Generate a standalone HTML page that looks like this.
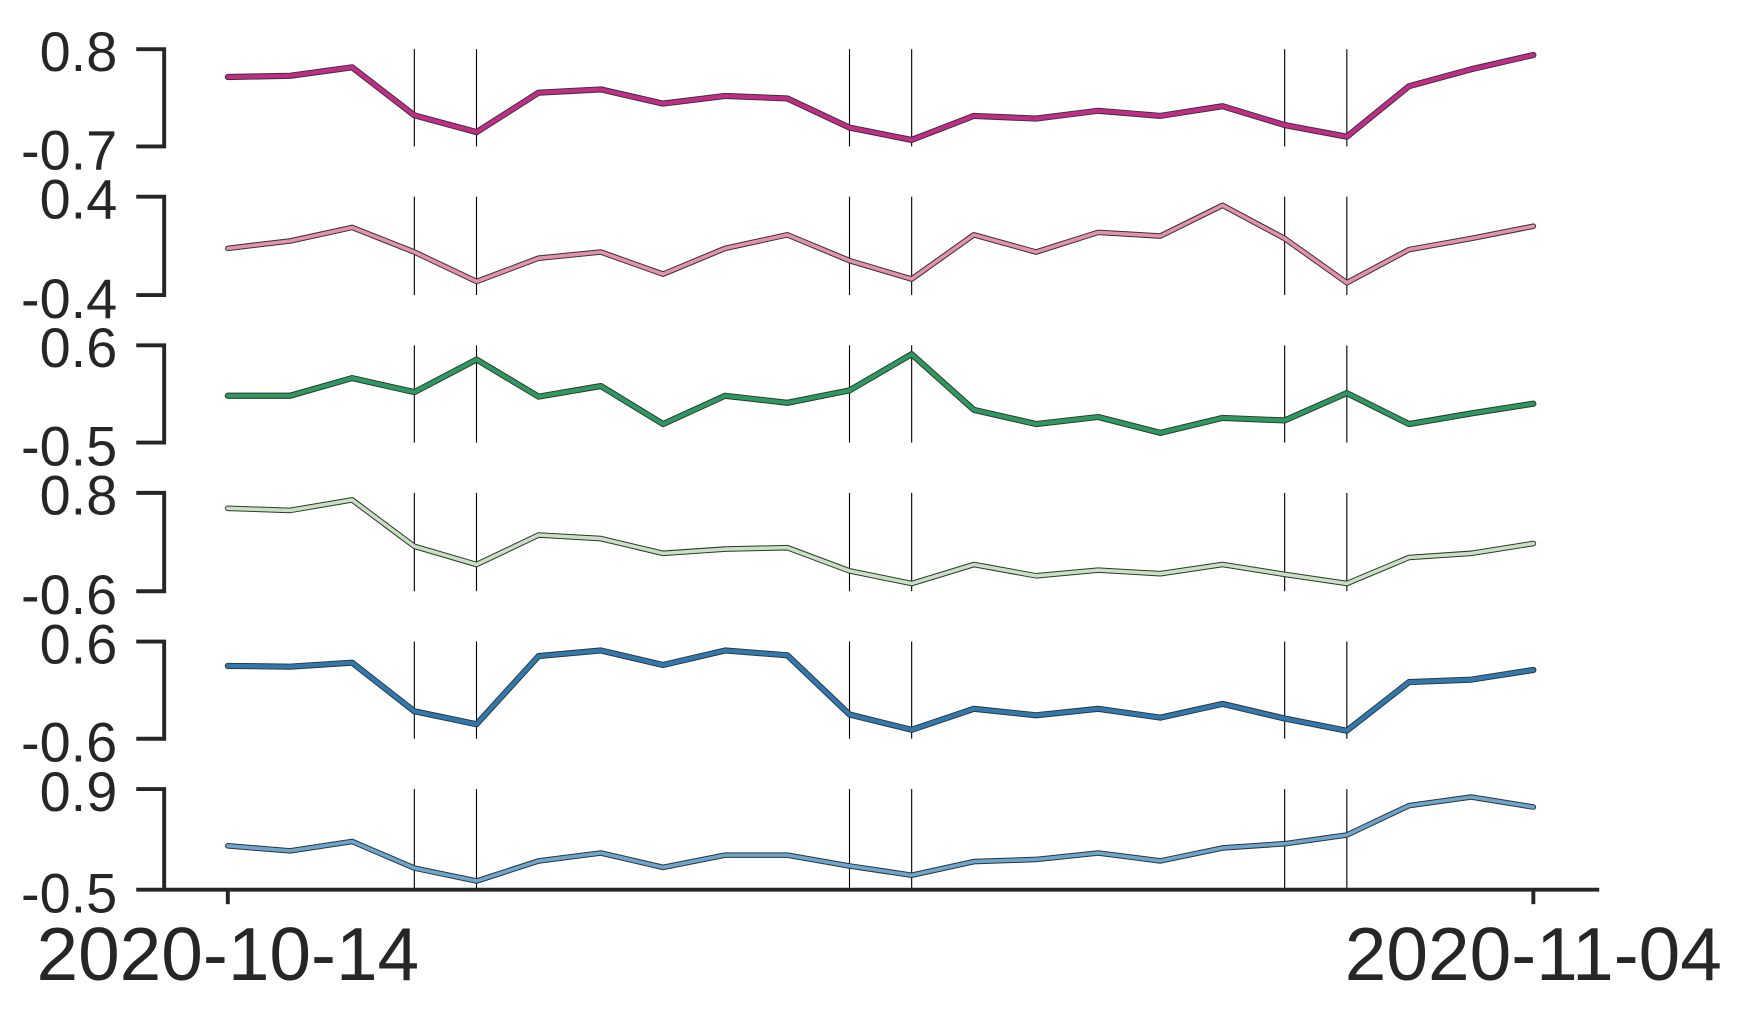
<!DOCTYPE html>
<html><head><meta charset="utf-8"><style>
html,body{margin:0;padding:0;background:#fff;}
svg{display:block;font-family:"Liberation Sans",sans-serif;}
</style></head><body>
<svg id="chart" width="1750" height="1026" viewBox="0 0 1567 918" preserveAspectRatio="none"></svg>
<script>
const dates = ["2020-10-14","2020-11-04"];
const s1 = [0.37,0.39,0.52,-0.22,-0.48,0.13,0.18,-0.04,0.08,0.04,-0.41,-0.60,-0.23,-0.27,-0.15,-0.23,-0.08,-0.37,-0.55,0.23,0.49,0.71];
const s2 = [-0.02,0.04,0.15,-0.05,-0.29,-0.10,-0.05,-0.23,-0.02,0.09,-0.12,-0.27,0.09,-0.05,0.11,0.08,0.33,0.06,-0.30,-0.03,0.06,0.16];
const s3 = [0.03,0.03,0.23,0.07,0.44,0.02,0.14,-0.29,0.03,-0.05,0.09,0.50,-0.13,-0.29,-0.21,-0.39,-0.22,-0.25,0.06,-0.29,-0.17,-0.06];
const s4 = [0.58,0.55,0.70,0.04,-0.22,0.20,0.15,-0.06,0.00,0.02,-0.31,-0.49,-0.22,-0.38,-0.30,-0.35,-0.22,-0.36,-0.49,-0.12,-0.06,0.08];
const s5 = [0.30,0.29,0.34,-0.26,-0.42,0.42,0.49,0.31,0.49,0.43,-0.30,-0.49,-0.23,-0.31,-0.23,-0.34,-0.17,-0.35,-0.50,0.10,0.13,0.25];
const s6 = [0.11,0.04,0.17,-0.20,-0.38,-0.10,0.01,-0.19,-0.02,-0.02,-0.17,-0.30,-0.11,-0.08,0.01,-0.10,0.08,0.14,0.26,0.67,0.79,0.65];
const yMins = [-0.7,-0.4,-0.5,-0.6,-0.6,-0.5];
const yMaxs = [0.8,0.4,0.6,0.8,0.6,0.9];
const yMinLabels = ["-0.7","-0.4","-0.5","-0.6","-0.6","-0.5"];
const yMaxLabels = ["0.8","0.4","0.6","0.8","0.6","0.9"];
const eventIdx = [3,4,10,11,17,18];
const series = [s1,s2,s3,s4,s5,s6];
const colors = ["#c22c88","#e78fae","#2a9a5e","#c6e3c0","#2f79b1","#6aa6cf"];
const NS="http://www.w3.org/2000/svg";
const svg=document.getElementById('chart');
const x0=204, x1=1373, n=s1.length;
const xs=i=>x0+(x1-x0)*i/(n-1);
const tops=[44,176,309,441,574,706], ph=[87,88,87,88,87,90];
function el(t,a){const e=document.createElementNS(NS,t);for(const k in a)e.setAttribute(k,a[k]);svg.appendChild(e);return e;}
series.forEach((d,p)=>{
  const top=tops[p], bot=top+ph[p];
  const ys=v=>bot-(v-yMins[p])/(yMaxs[p]-yMins[p])*ph[p];
  const sp=el('path',{d:`M122 ${top}H147V${bot}H122`,fill:'none',stroke:'#262626','stroke-width':3.5});
  
  
  const t1=el('text',{x:105,y:top+2,'text-anchor':'end','dominant-baseline':'central','font-size':50,fill:'#262626'});
  t1.textContent=yMaxLabels[p];
  
  
  const t2=el('text',{x:105,y:bot+3,'text-anchor':'end','dominant-baseline':'central','font-size':50,fill:'#262626'});
  t2.textContent=yMinLabels[p];
  
  
  eventIdx.forEach(i=>{
    const l=el('line',{x1:xs(i),x2:xs(i),y1:top,y2:bot,stroke:'#000','stroke-width':1});
    
    
  });
  const pts=d.map((v,i)=>xs(i).toFixed(1)+','+ys(v).toFixed(1)).join(' ');
  const o=el('polyline',{points:pts,fill:'none',stroke:'#333','stroke-width':p==0||p==2||p==4?5.5:5,'stroke-linejoin':'round','stroke-linecap':'round'});
  
  
  const c=el('polyline',{points:pts,fill:'none',stroke:colors[p],'stroke-width':p==0||p==2||p==4?3.8:3.2,'stroke-linejoin':'round','stroke-linecap':'round'});
  
  
});
const xa=el('line',{x1:147,x2:1432,y1:796,y2:796,stroke:'#262626','stroke-width':3.5});


[0,n-1].forEach((i,k)=>{
  const tk=el('line',{x1:xs(i),x2:xs(i),y1:796,y2:809,stroke:'#262626','stroke-width':3.5});
  
  
  const tl=el('text',{x:xs(i),y:877,'text-anchor':'middle','font-size':67,fill:'#262626'});
  tl.textContent=dates[k];
  
  
});
</script>
</body></html>
